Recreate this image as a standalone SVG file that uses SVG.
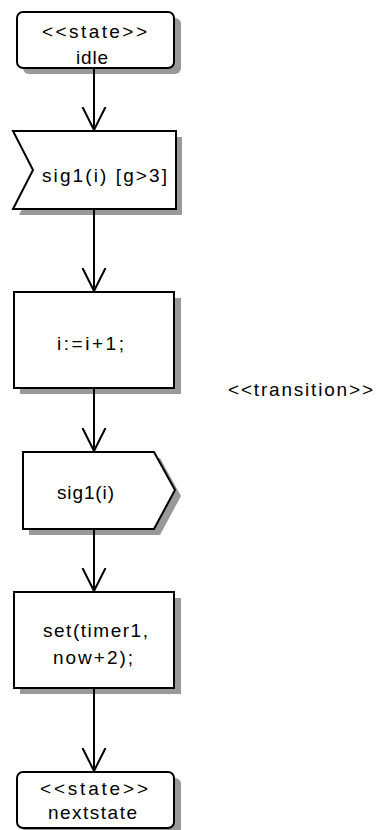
<svg xmlns="http://www.w3.org/2000/svg" width="378" height="830" viewBox="0 0 378 830">
<defs>
<style>
.shape{fill:#ffffff;stroke:#000000;stroke-width:2;stroke-linejoin:miter}
.shadow{fill:#999999;stroke:none}
.lbl{font-family:"Liberation Sans",Arial,sans-serif;font-size:19px;fill:#000000;text-anchor:middle}
.edge{fill:none;stroke:#000000;stroke-width:2}
</style>
<marker id="open" viewBox="0 0 25 26" refX="23" refY="13" markerWidth="25" markerHeight="26" markerUnits="userSpaceOnUse" orient="auto">
<path d="M0,1.5 L23,13 L0,24.5" fill="none" stroke="#000000" stroke-width="2"/>
</marker>
</defs>
<rect width="378" height="830" fill="#ffffff"/>
<g id="idle">
<rect class="shadow" x="23" y="18" width="158" height="56" rx="6"/>
<rect class="shape" x="17" y="12" width="157" height="56" rx="6"/>
<text class="lbl" x="94.5" y="38" textLength="105" lengthAdjust="spacing">&lt;&lt;state&gt;&gt;</text>
<text class="lbl" x="92" y="64" textLength="32" lengthAdjust="spacing">idle</text>
</g>
<g id="sig_in">
<polygon class="shadow" points="19,137 182,137 182,215 19,215 39,176"/>
<polygon class="shape" points="13,131 176,131 176,209 13,209 33,170"/>
<text class="lbl" x="104.5" y="182" textLength="125" lengthAdjust="spacing">sig1(i) [g&gt;3]</text>
</g>
<g id="task1">
<rect class="shadow" x="20" y="298" width="161" height="96"/>
<rect class="shape" x="14" y="292" width="160" height="96"/>
<text class="lbl" x="90.5" y="350" textLength="67" lengthAdjust="spacing">i:=i+1;</text>
</g>
<g id="sig_out">
<polygon class="shadow" points="29,458 160,458 181,496 160,535 29,535"/>
<polygon class="shape" points="23,452 154,452 175,490 154,529 23,529"/>
<text class="lbl" x="85.5" y="499" textLength="57" lengthAdjust="spacing">sig1(i)</text>
</g>
<g id="task2">
<rect class="shadow" x="20" y="598" width="161" height="96"/>
<rect class="shape" x="14" y="592" width="160" height="96"/>
<text class="lbl" x="95.5" y="637" textLength="105" lengthAdjust="spacing">set(timer1,</text>
<text class="lbl" x="93" y="664" textLength="80" lengthAdjust="spacing">now+2);</text>
</g>
<g id="nextstate">
<rect class="shadow" x="23" y="778" width="158" height="56" rx="6"/>
<rect class="shape" x="17" y="772" width="157" height="56" rx="6"/>
<text class="lbl" x="94" y="795" textLength="108" lengthAdjust="spacing">&lt;&lt;state&gt;&gt;</text>
<text class="lbl" x="92.5" y="819" textLength="89" lengthAdjust="spacing">nextstate</text>
</g>
<g id="transition">
<text class="lbl" x="300.5" y="396" textLength="145" lengthAdjust="spacing">&lt;&lt;transition&gt;&gt;</text>
</g>
<g id="connectors">
<line class="edge" x1="94" y1="68" x2="94" y2="130" marker-end="url(#open)"/>
<line class="edge" x1="94" y1="209" x2="94" y2="291" marker-end="url(#open)"/>
<line class="edge" x1="94" y1="388" x2="94" y2="451" marker-end="url(#open)"/>
<line class="edge" x1="94" y1="529" x2="94" y2="591" marker-end="url(#open)"/>
<line class="edge" x1="94" y1="688" x2="94" y2="771" marker-end="url(#open)"/>
</g>
</svg>
